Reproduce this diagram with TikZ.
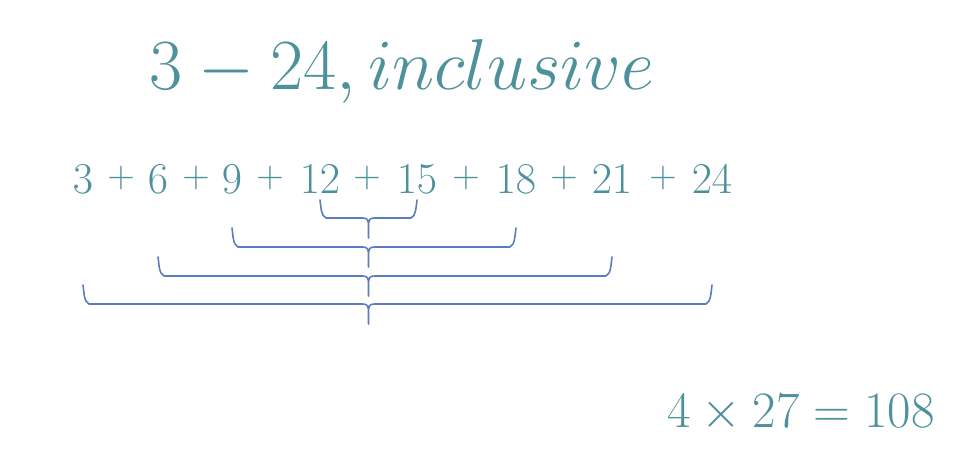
\RequirePackage{fix-cm}
\documentclass[tikz,border=0pt]{standalone}
\usepackage{amsmath}
\usepackage{tikz}
\usetikzlibrary{calc}
\usepackage{xcolor}
\definecolor{tealtext}{HTML}{4D919B}
\definecolor{braceblue}{HTML}{5B7DBF}
\tikzstyle{term}=[text=tealtext, anchor=base, inner sep=0pt, font=\fontsize{44}{50}\selectfont]
\tikzstyle{plus}=[term, anchor=center, font=\fontsize{38}{44}\selectfont]
\tikzstyle{heading}=[term, font=\fontsize{72}{80}\selectfont]
\tikzstyle{answer}=[term, font=\fontsize{51}{58}\selectfont]
\tikzstyle{bracket}=[draw=braceblue, line width=1.6pt, line join=round, line cap=round]
\newcommand{\sumBrace}[5]{
	\draw[bracket] let \p1=(#1), \p2=(#2), \p3=(mid) in
		(\x1,#3) .. controls ({\x1+1pt},{#3+7}) and ({\x1+1pt},{#4-2}) .. ({\x1+6pt},#4)
		-- ({\x3-6pt},#4) .. controls ({\x3-1pt},#4) and (\x3,{#4+2}) .. (\x3,{#4+8}) -- (\x3,#5)
		(\x3,{#4+8}) .. controls (\x3,{#4+2}) and ({\x3+1pt},#4) .. ({\x3+6pt},#4)
		-- ({\x2-6pt},#4) .. controls ({\x2-1pt},{#4-2}) and ({\x2-1pt},{#3+7}) .. (\x2,#3);
}
\begin{document}
\begin{tikzpicture}[x=1pt, y=-1pt]
	\useasboundingbox[fill=white] (0,0) rectangle (978,460);
%
	\node[heading] (range) at (402,90) {$3-24, inclusive$};
%
	\foreach \v/\x in {3/83, 6/158, 9/232, 12/320, 15/417, 18/516, 21/612, 24/712}
		\node[term] (n\v) at (\x,193) {$\v$};
	\foreach \i/\x in {1/121, 2/196, 3/270, 4/367, 5/466, 6/564, 7/663}
		\node[plus] (p\i) at (\x,178) {$+$};
	\coordinate (mid) at ($(n12)!.5!(n15)$);
%
	\sumBrace{n12}{n15}{200}{218}{238}
	\sumBrace{n9}{n18}{228}{247}{267}
	\sumBrace{n6}{n21}{257}{276}{296}
	\sumBrace{n3}{n24}{285}{304}{324}
%
	\node[answer] (product) at (801,427) {$4\times27=108$};
\end{tikzpicture}
\end{document}
